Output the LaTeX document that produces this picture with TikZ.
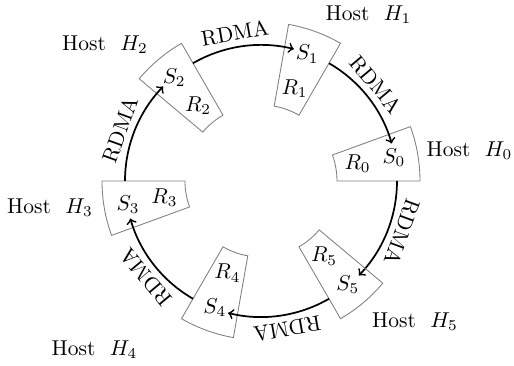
\documentclass[tikz,border=0pt]{standalone}
\begin{document}
\begin{tikzpicture}[x=0.465pt,y=0.465pt,
  hostbox/.style={draw=gray, line width=0.4pt},
  link/.style={->, thick},
  rdma/.style={inner sep=0pt},
  hostlbl/.style={inner sep=0pt}]
\useasboundingbox (-261,-185) rectangle (253,181);
\foreach \i in {0,...,5} {
  \pgfmathsetmacro\a{60*\i}
  \pgfmathsetmacro\b{60*\i+20}
  \pgfmathsetmacro\m{60*\i+10}
  \pgfmathsetmacro\e{60*\i-44}
  \pgfmathsetmacro\l{60*\i-20}
  \pgfmathsetmacro\r{60*\i-110}
  \draw[hostbox] (\a:76) -- (\a:159) arc[start angle=\a, end angle=\b, radius=159]
    -- (\b:76) arc[start angle=\b, end angle=\a, radius=76] -- cycle;
  \node (S\i) at (\m:135) {$S_{\i}$};
  \node (R\i) at (\m:98) {$R_{\i}$};
  \coordinate (A\i) at (\a:136);
  \draw[link] (A\i) arc[start angle=\a, end angle=\e, radius=136];
  \node[rdma, rotate=\r] (L\i) at (\l:150) {RDMA};
}
\node[hostlbl] (H0) at (208.5,30) {Host\ \ $H_0$};
\node[hostlbl] (H1) at (107.5,166) {Host\ \ $H_1$};
\node[hostlbl] (H2) at (-156,136) {Host\ \ $H_2$};
\node[hostlbl] (H3) at (-211,-27) {Host\ \ $H_3$};
\node[hostlbl] (H4) at (-166.5,-169) {Host\ \ $H_4$};
\node[hostlbl] (H5) at (154,-141) {Host\ \ $H_5$};
\end{tikzpicture}
\end{document}
